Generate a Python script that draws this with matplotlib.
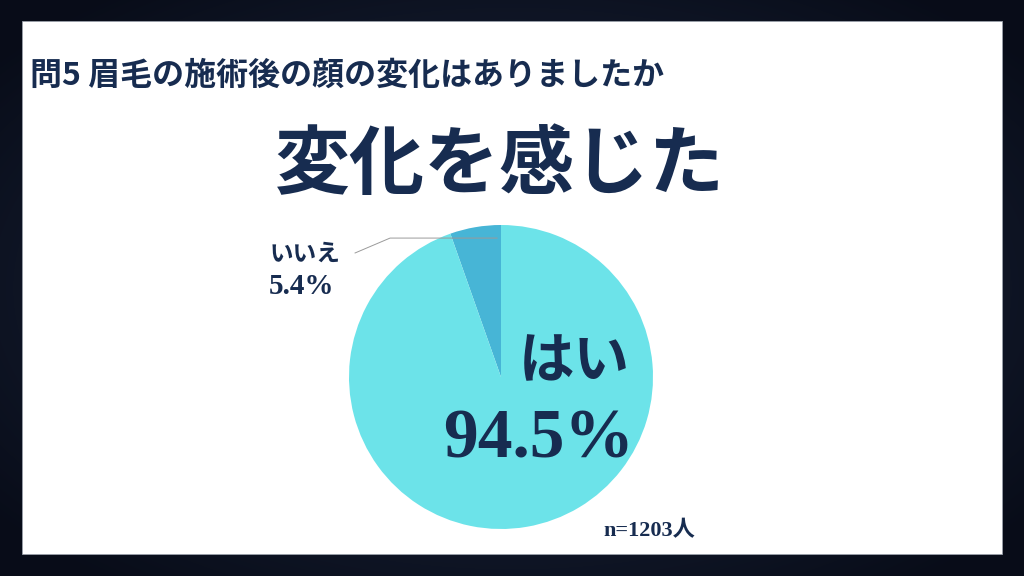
import numpy as np
import matplotlib.pyplot as plt
from matplotlib.patches import Rectangle

# survey data
labels = ['いいえ', 'はい']
values = [5.4, 94.5]
colors = ['#47B5D6', '#6CE3E9']
n_total = 1203

question = '問5 眉毛の施術後の顔の変化はありましたか'
headline = '変化を感じた'
navy = '#172C50'

W, H = 1024, 576
jp = ['Noto Sans CJK JP', 'DejaVu Sans']
num = ['Liberation Serif', 'Noto Sans CJK JP']


def px(x, y):
    return x / W, 1 - y / H


fig = plt.figure(figsize=(W / 100, H / 100), dpi=100)

# dark vignette background
bg = fig.add_axes([0, 0, 1, 1])
bg.set_zorder(-5)
yy, xx = np.mgrid[0:H, 0:W]
d = np.sqrt(((xx - W / 2) / (W / 2)) ** 2 + ((yy - H / 2) / (H / 2)) ** 2)
d = np.clip(d / 1.3, 0, 1)
c0 = np.array([0x20, 0x2C, 0x46]) / 255
c1 = np.array([0x08, 0x0C, 0x18]) / 255
img = c0[None, None, :] * (1 - d[..., None]) + c1[None, None, :] * d[..., None]
bg.imshow(img, extent=[0, 1, 0, 1], aspect='auto')
bg.axis('off')

# white panel
fig.patches.append(Rectangle(px(22, 554), 980 / W, 533 / H, transform=fig.transFigure,
                             facecolor='white', edgecolor='#9aa0aa', linewidth=0.6, zorder=1))

# pie
cx, cy, r = 501, 377, 152
ax = fig.add_axes([(cx - r) / W, (H - cy - r) / H, 2 * r / W, 2 * r / H])
ax.set_zorder(2)
ax.pie(values, colors=colors, startangle=90, counterclock=True,
       wedgeprops=dict(linewidth=0))
ax.set_xlim(-1, 1)
ax.set_ylim(-1, 1)
ax.set_aspect('equal')
ax.axis('off')

# leader line for いいえ
ax.plot([-0.026, -0.73, -0.96], [0.914, 0.914, 0.816], color='#9a9a9a',
        linewidth=0.7, clip_on=False)

fig.text(*px(30, 76), question, family=jp, fontsize=23, fontweight='bold',
         color=navy, ha='left', va='center', zorder=3)
fig.text(*px(500, 166), headline, family=jp, fontsize=54, fontweight='bold',
         color=navy, ha='center', va='center', zorder=3)

fig.text(*px(574, 362), labels[1], family=jp, fontsize=40, fontweight='bold',
         color=navy, ha='center', va='center', zorder=3)
fig.text(*px(539, 441), f'{values[1]}%', family=num, fontsize=50, fontweight='bold',
         color=navy, ha='center', va='center', zorder=3)

fig.text(*px(270, 254), labels[0], family=jp, fontsize=17, fontweight='bold',
         color=navy, ha='left', va='center', zorder=3)
fig.text(*px(269, 286), f'{values[0]}%', family=num, fontsize=21, fontweight='bold',
         color=navy, ha='left', va='center', zorder=3)

fig.text(*px(603, 531), f'n={n_total}人', family=num, fontsize=16, fontweight='bold',
         color=navy, ha='left', va='center', zorder=3)

fig.savefig('out.png', dpi=100)
